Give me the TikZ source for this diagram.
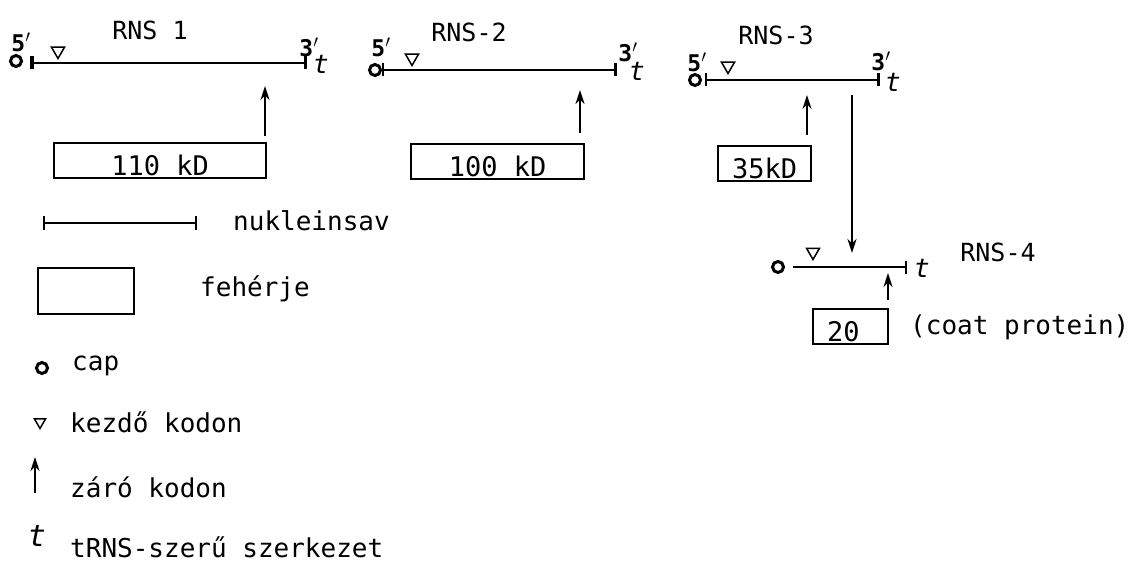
\documentclass[tikz,border=0pt]{standalone}
\usepackage{fontspec}
\setmonofont{DejaVu Sans Mono}
\usetikzlibrary{arrows.meta,shapes.geometric}
\tikzset{
  lbl/.style={font=\ttfamily\fontsize{26}{30}\selectfont, inner sep=0pt},
  rnstitle/.style={font=\ttfamily\fontsize{25}{30}\selectfont, inner sep=0pt},
  primelbl/.style={font=\ttfamily\bfseries\fontsize{23}{26}\selectfont, inner sep=0pt},
  tsym/.style={font=\ttfamily\itshape\fontsize{26}{28}\selectfont, inner sep=0pt},
  capdot/.style={circle, draw, line width=3pt, minimum size=11pt, inner sep=0pt},
  startcod/.style={regular polygon, regular polygon sides=3, shape border rotate=180,
    draw, line width=1.5pt, minimum size=15pt, inner sep=0pt},
  protein/.style={draw, line width=2.2pt, anchor=north west, inner xsep=0pt,
    inner ysep=0pt, text height=32pt, text depth=3pt,
    font=\ttfamily\fontsize{27}{30}\selectfont},
  rna/.style={line width=2.2pt, {Bar[width=13pt]}-{Bar[width=13pt,line width=3.5pt]}},
  stopcod/.style={line width=2.2pt, -{Stealth[length=14pt,width=9pt]}}
}
\begin{document}
\begin{tikzpicture}[x=1pt,y=-1pt]
  \useasboundingbox (0,0) rectangle (1140,572);

  % RNS 1
  \node[rnstitle] (title1) at (150,30) {RNS 1};
  \node[primelbl] (five1) at (21,42) {5$'$};
  \node[primelbl] (three1) at (309,47) {3$'$};
  \node[capdot] (cap1) at (16,61) {};
  \node[startcod] (start1) at (58,51) {};
  \node[tsym] (trna1) at (321,64) {t};
  \coordinate (r1a) at (30,63);
  \coordinate (r1b) at (307,63);
  \draw[line width=2.2pt, {Bar[width=13pt]Bar[width=13pt]}-{Bar[width=13pt,line width=3.5pt]}] (r1a) -- (r1b);
  \node[protein, minimum width=212pt] (prot1) at (53,142) {110 kD};
  \coordinate (stop1) at (265,86);
  \draw[stopcod] ([yshift=6pt]stop1 |- prot1.north) -- (stop1);

  % RNS-2
  \node[rnstitle] (title2) at (469,32) {RNS-2};
  \node[primelbl] (five2) at (381,47) {5$'$};
  \node[primelbl] (three2) at (628,52) {3$'$};
  \node[capdot] (cap2) at (375,70) {};
  \node[startcod] (start2) at (412,58) {};
  \node[tsym] (trna2) at (637,71) {t};
  \coordinate (r2a) at (382,70);
  \coordinate (r2b) at (617,70);
  \draw[rna] (r2a) -- (r2b);
  \node[protein, minimum width=173pt] (prot2) at (410,143) {100 kD};
  \coordinate (stop2) at (580,90);
  \draw[stopcod] ([yshift=10pt]stop2 |- prot2.north) -- (stop2);

  % RNS-3
  \node[rnstitle] (title3) at (776,35) {RNS-3};
  \node[primelbl] (five3) at (697,62) {5$'$};
  \node[primelbl] (three3) at (881,61) {3$'$};
  \node[capdot] (cap3) at (695,80) {};
  \node[startcod] (start3) at (728,66) {};
  \node[tsym] (trna3) at (893,82) {t};
  \coordinate (r3a) at (705,80);
  \coordinate (r3b) at (880,80);
  \draw[rna] (r3a) -- (r3b);
  \node[protein, minimum width=93pt] (prot3) at (717,145) {35kD};
  \coordinate (stop3) at (807,95);
  \draw[stopcod] ([yshift=10pt]stop3 |- prot3.north) -- (stop3);
  \coordinate (sub3) at (852,95);
  \coordinate (sub4) at (852,253);
  \draw[stopcod] (sub3) -- (sub4);

  % RNS-4
  \node[rnstitle] (title4) at (998,252) {RNS-4};
  \node[capdot] (cap4) at (778,267) {};
  \node[startcod] (start4) at (813,252) {};
  \node[tsym] (trna4) at (922,268) {t};
  \coordinate (r4a) at (793,267);
  \coordinate (r4b) at (907,267);
  \draw[line width=2.2pt, -{Bar[width=13pt]}] (r4a) -- (r4b);
  \node[protein, minimum width=75pt, text width=75pt, align=left] (prot4) at (812,308) {\hspace{14pt}20};
  \coordinate (stop4) at (888,273);
  \draw[stopcod] ([yshift=8pt]stop4 |- prot4.north) -- (stop4);
  \node[lbl, anchor=west] (coat) at (910,327) {(coat protein)};

  % jelmagyarazat
  \coordinate (nsa) at (43,223);
  \coordinate (nsb) at (197,223);
  \draw[line width=1.8pt, {Bar[width=13pt]}-{Bar[width=13pt]}] (nsa) -- (nsb);
  \node[lbl, anchor=west] (nukl) at (233,221) {nukleinsav};
  \node[draw, line width=2.2pt, minimum width=96pt, minimum height=46pt, anchor=north west] (feh) at (37,267) {};
  \node[lbl, anchor=west] (fehlbl) at (200,289) {fehérje};
  \node[capdot] (capleg) at (42,368) {};
  \node[lbl, anchor=west] (caplbl) at (72,366) {cap};
  \node[startcod, minimum size=13pt] (startleg) at (40,422) {};
  \node[lbl, anchor=west] (startlbl) at (70,422) {kezdő kodon};
  \coordinate (stopleg) at (35,457);
  \coordinate (stopbase) at (35,493);
  \draw[stopcod] (stopbase) -- (stopleg);
  \node[lbl, anchor=west] (stoplbl) at (70,487) {záró kodon};
  \node[tsym, font=\ttfamily\itshape\fontsize{30}{32}\selectfont] (tleg) at (37,536) {t};
  \node[lbl, anchor=west] (tlbl) at (70,547) {tRNS-szerű szerkezet};
\end{tikzpicture}
\end{document}
